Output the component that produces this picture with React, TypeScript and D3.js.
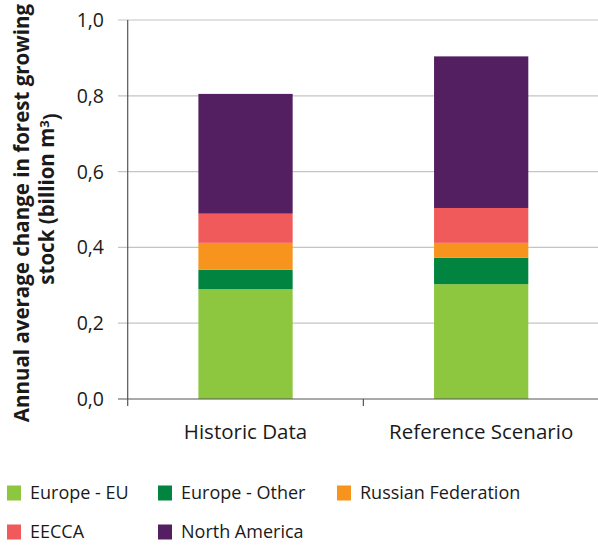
import React, { useEffect, useRef } from "react";
import * as d3 from "d3";

const categories = ["Historic Data", "Reference Scenario"];
const seriesNames = ["Europe - EU", "Europe - Other", "Russian Federation", "EECCA", "North America"];
const seriesColors = ["#8dc63f", "#00843f", "#f7941d", "#f05a5a", "#531f61"];
const europeEU = [0.29, 0.303];
const europeOther = [0.051, 0.07];
const russia = [0.071, 0.039];
const eecca = [0.077, 0.092];
const northAmerica = [0.316, 0.40];
const yTicks = [0, 0.2, 0.4, 0.6, 0.8, 1.0];

const FONT = "'Open Sans', sans-serif";

export default function App() {
  const ref = useRef<SVGSVGElement>(null);

  useEffect(() => {
    const svg = d3.select(ref.current);
    svg.selectAll("*").remove();

    const left = 127.7, right = 599, top = 20, bottom = 399;

    const rows = categories.map((c, i) => ({
      cat: c,
      s0: europeEU[i], s1: europeOther[i], s2: russia[i], s3: eecca[i], s4: northAmerica[i],
    }));
    const keys = ["s0", "s1", "s2", "s3", "s4"];
    const stacked = d3.stack<any>().keys(keys)(rows);

    const x = d3.scaleBand().domain(categories).range([left, right]).paddingInner(0.6).paddingOuter(0.3);
    const y = d3.scaleLinear().domain([0, 1]).range([bottom, top]);

    // grid
    svg.append("g")
      .selectAll("line")
      .data(yTicks.slice(1))
      .enter().append("line")
      .attr("x1", 118).attr("x2", right)
      .attr("y1", d => y(d)).attr("y2", d => y(d))
      .attr("stroke", "#c4c4c4").attr("stroke-width", 1.2);

    // bars
    svg.append("g")
      .selectAll("g")
      .data(stacked)
      .enter().append("g")
      .attr("fill", (d, i) => seriesColors[i])
      .selectAll("rect")
      .data(d => d)
      .enter().append("rect")
      .attr("x", d => x(d.data.cat)!)
      .attr("y", d => y(d[1]))
      .attr("height", d => y(d[0]) - y(d[1]))
      .attr("width", x.bandwidth());

    // axes
    svg.append("line")
      .attr("x1", left).attr("x2", left).attr("y1", top).attr("y2", 406)
      .attr("stroke", "#555").attr("stroke-width", 1.2);
    svg.append("line")
      .attr("x1", 118).attr("x2", right).attr("y1", bottom).attr("y2", bottom)
      .attr("stroke", "#555").attr("stroke-width", 1.2);
    svg.append("line")
      .attr("x1", left + x.step()).attr("x2", left + x.step()).attr("y1", bottom).attr("y2", 406)
      .attr("stroke", "#555").attr("stroke-width", 1.2);

    // y tick labels
    svg.append("g")
      .selectAll("text")
      .data(yTicks)
      .enter().append("text")
      .attr("x", 104).attr("y", d => y(d))
      .attr("dy", "0.36em")
      .attr("text-anchor", "end")
      .attr("font-family", FONT).attr("font-size", 19.5).attr("fill", "#1a1a1a")
      .text(d => d3.format(".1f")(d).replace(".", ","));

    // x labels
    svg.append("g")
      .selectAll("text")
      .data(categories)
      .enter().append("text")
      .attr("x", d => x(d)! + x.bandwidth() / 2)
      .attr("y", 439)
      .attr("text-anchor", "middle")
      .attr("font-family", FONT).attr("font-size", 20.5).attr("fill", "#1a1a1a")
      .text(d => d);

    // y title
    svg.append("text")
      .attr("transform", "translate(22,213) rotate(-90)")
      .attr("text-anchor", "middle").attr("dy", "0.36em")
      .attr("font-family", FONT).attr("font-size", 20.5).attr("font-weight", "bold").attr("fill", "#1a1a1a")
      .text("Annual average change in forest growing");
    const t2 = svg.append("text")
      .attr("transform", "translate(47,199) rotate(-90)")
      .attr("text-anchor", "middle").attr("dy", "0.36em")
      .attr("font-family", FONT).attr("font-size", 20.5).attr("font-weight", "bold").attr("fill", "#1a1a1a");
    t2.append("tspan").text("stock (billion m");
    t2.append("tspan").attr("dy", "-0.45em").attr("font-size", 13).text("3");
    t2.append("tspan").attr("dy", "0.45em").text(")");

    // legend
    const legendPos = [[7, 493], [158, 493], [337, 493], [7, 532], [158, 532]];
    const lg = svg.append("g")
      .selectAll("g")
      .data(seriesNames)
      .enter().append("g")
      .attr("transform", (d, i) => `translate(${legendPos[i][0]},${legendPos[i][1]})`);
    lg.append("rect").attr("x", 0).attr("y", -7.5).attr("width", 14).attr("height", 15)
      .attr("fill", (d, i) => seriesColors[i]);
    lg.append("text").attr("x", 23).attr("dy", "0.36em")
      .attr("font-family", FONT).attr("font-size", 18).attr("fill", "#1a1a1a")
      .text(d => d);
  }, []);

  return <svg ref={ref} width={598} height={545} style={{ position: "absolute", left: 0, top: 0 }}></svg>;
}
